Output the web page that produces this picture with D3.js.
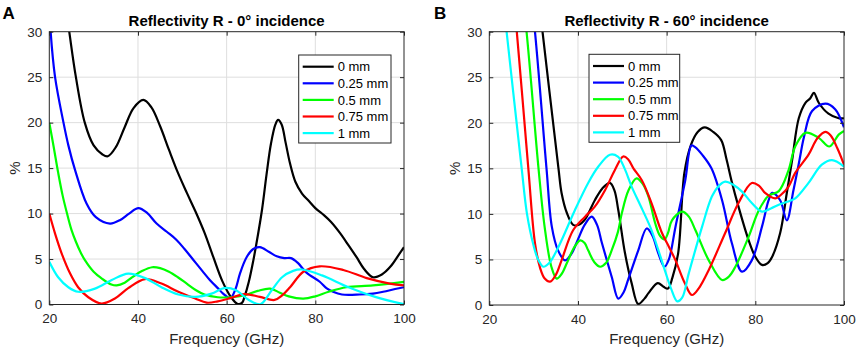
<!DOCTYPE html>
<html>
<head>
<meta charset="utf-8">
<script src="https://cdn.jsdelivr.net/npm/d3@7"></script>
<style>
body { margin: 0; background: #fff; }
svg { display: block; font-family: "Liberation Sans", Arial, sans-serif; }
</style>
</head>
<body>
<script>
// Legend entries and line colours (MATLAB k, b, g, r, c)
const thickness = ["0 mm", "0.25 mm", "0.5 mm", "0.75 mm", "1 mm"];
const colors = ["#000000", "#0000ff", "#00ff00", "#ff0000", "#00ffff"];

const xTicks = [20, 40, 60, 80, 100];
const yTicks = [0, 5, 10, 15, 20, 25, 30];

// Panel A - 0° incidence, [frequency GHz, reflectivity %]
const a0mm = [[20,48],[22,39],[24.5,30],[26,25],[28,20],[30,17.5],[32,16.5],[33.2,16.3],[35,17.3],[37,19.5],[39,21.6],[41.2,22.5],[43,21.7],[45,19.6],[47,17.0],[49,14.5],[51,12.3],[53,10.2],[55,7.9],[57,5.2],[59,2.6],[61,0.8],[62.5,0.05],[63.5,0.2],[64,0.8],[65,2.5],[66,4.8],[67,7.5],[68,10.5],[69,14.3],[70,17.7],[71,19.8],[71.6,20.3],[72.4,19.8],[73.3,17.8],[74.3,15.5],[75.5,13.5],[77,12.2],[78.5,11.4],[80,10.6],[82,9.8],[83.5,9.1],[85.5,7.9],[87.5,6.5],[89.3,5.2],[91,3.9],[93,3.0],[95,3.3],[97,4.2],[99,5.6],[100,6.3]];
const a025mm = [[20,33],[20.3,30],[21.3,25],[23.2,20],[24.3,17.5],[25.8,14.8],[28.4,11.1],[30.5,9.6],[33.7,8.9],[36,9.3],[38,10],[40.1,10.6],[42,10.1],[44.2,8.9],[46.5,8],[48.7,7.1],[50.5,6.1],[52.5,4.9],[54.5,3.7],[56.2,2.7],[58,1.8],[59.2,1.2],[60.8,0.7],[62,1.7],[63,3.4],[64.5,5.2],[66,6.1],[67.5,6.3],[69.5,5.8],[71.3,5.3],[73,5.1],[74.5,5.1],[76,4.6],[78,3.5],[81,2.5],[82.5,1.8],[84,1.4],[86,1.1],[90,1.1],[93,1.2],[95.3,1.4],[98,1.7],[100,1.9]];
const a05mm = [[20,20],[21,17.3],[22,14.5],[23,12],[24,10],[25,8.2],[26,6.9],[27,5.8],[28,4.9],[30,3.6],[32,2.8],[34,2.2],[35.2,2.1],[37,2.4],[39,3.1],[41,3.7],[43.2,4.1],[45,4.0],[47,3.6],[49,3.0],[51,2.3],[53,1.6],[55,1.1],[58,0.8],[61,0.8],[64,1.0],[67,1.5],[69.8,1.75],[72,1.3],[74,0.9],[77.3,0.65],[80,0.9],[83,1.4],[87,1.9],[93,2.1],[100,2.5]];
const a075mm = [[20,10],[21.3,7.8],[22.8,5.6],[24.7,3.4],[26.5,1.9],[28.8,0.8],[31.8,0.1],[34.8,0.66],[37.8,1.8],[41.6,2.8],[45.3,2.3],[49.1,1.4],[52.9,0.66],[55.5,0.2],[58,0.35],[60.8,0.7],[64,1.15],[67.5,0.84],[70.8,0.5],[72.5,1.0],[74.3,1.9],[77.3,3.6],[81,4.2],[86.3,3.8],[91.6,2.9],[96.8,2.3],[100,2.1]];
const a1mm = [[20,4.7],[22,3.0],[24.3,1.9],[26.5,1.4],[30.3,1.75],[34.1,2.7],[37.8,3.4],[41.6,2.9],[45.3,1.9],[49.1,1.1],[52.9,0.84],[56.6,1.2],[59.4,1.8],[62,1.6],[65,0.5],[67.6,0.03],[70.2,1.6],[72.5,3.0],[75,3.7],[77,3.85],[81.5,3.2],[87.5,1.9],[93.5,0.84],[100,0.03]];

// Panel B - 60° incidence
const b0mm = [[30,38.5],[32,30],[35.6,15],[36.3,12.3],[37.5,10.1],[38.9,8.8],[40.2,8.8],[41.6,9.4],[43.8,11.5],[45.5,12.8],[47.2,13.4],[48.2,12.6],[49.1,10.4],[50.6,5.7],[52.1,2.4],[53.6,0.1],[55,0.7],[55.9,1.3],[58,2.4],[59.3,2.0],[60.3,1.8],[61.3,3],[62.6,5.7],[64,14.5],[65.5,17.6],[67,19.0],[68.6,19.5],[70.5,19.0],[72.3,18.1],[73.5,16],[74.6,13.7],[76.2,10.8],[78.5,7.1],[80,5.3],[81.5,4.4],[82.8,4.6],[83.8,5.3],[85.6,7.9],[87.1,12.3],[88.3,15.9],[89.8,20.5],[91.3,22.2],[92.4,22.7],[93.2,23.3],[94.3,22.2],[96.5,21.0],[98.8,20.5],[100,20.5]];
const b025mm = [[28,40.5],[30.3,30],[32.9,15],[34.1,8.6],[35.5,6],[37.1,4.9],[38.5,5.6],[40,7.2],[41.5,8.8],[43.1,9.7],[44.3,8.8],[45.4,6.8],[47.6,3.1],[49.1,0.7],[50.3,1.4],[51.3,2.75],[53.6,6.0],[55.5,8.4],[56.8,7.6],[58.1,5.7],[59.5,4.2],[60.5,5],[62,8.6],[64.2,13.7],[65.6,17.5],[66.5,17.3],[68,16.5],[70.1,15],[72.5,11.5],[74.7,6.8],[77,3.66],[79.2,4.9],[81.5,8.6],[83,11.5],[83.8,12.3],[85.6,11.5],[87.1,9.3],[88.6,12.6],[89.8,15.5],[91,18.5],[92.8,21.3],[95.8,22.1],[98,21.5],[100,19.5]];
const b05mm = [[26,40.5],[28.4,30],[31.1,15],[32.5,8.5],[34,4.2],[35.2,2.9],[36.3,3.4],[37.5,4.6],[39,6.2],[40.5,7.1],[41.5,6.8],[42.3,6.0],[43.7,4.7],[45,4.2],[46.3,4.6],[47.6,6.0],[49,8],[49.9,10.1],[51.4,12.6],[53.2,13.9],[54.6,13.3],[55.9,11.9],[57.4,9.0],[58.5,7.6],[59.5,7.2],[60.3,7.9],[61.2,9.3],[63.5,10.25],[65,9.7],[66.5,8.2],[69.5,4.9],[72.5,2.75],[74,3.1],[75.5,4.2],[78.5,7.5],[80.8,10.4],[83,12.0],[85.3,12.5],[87.5,14.8],[89,17.4],[91.3,18.9],[94.3,18.35],[96.7,17.4],[98.8,18.7],[100,19.1]];
const b075mm = [[24,41.5],[26.2,30],[28.8,15],[30.3,6.8],[31.5,4.0],[32.5,2.9],[33.7,2.56],[35,3.3],[36.3,4.9],[38.9,8.2],[41.6,9.7],[43.8,10.8],[46.1,12.6],[48.3,14.8],[50.2,16.3],[51.3,16],[52.5,15],[54.4,13.7],[56.5,11.3],[58.95,7.9],[60.5,6.4],[62,4.9],[64,2.5],[65.7,1.1],[67.2,1.8],[69.5,3.85],[73.2,7.9],[76.2,11.2],[79.2,13.4],[80.8,13.1],[82.2,12.3],[84.5,11.7],[85.8,12.1],[87.5,13.0],[89,14.5],[92,16.5],[94,18.3],[95.8,19.0],[97,18.6],[98.5,17.2],[100,15.4]];
const b1mm = [[22,38.5],[23.9,30],[27.3,15],[28.5,10],[30,6.5],[31,5],[32.2,4.2],[33.5,4.6],[35,5.8],[36.3,7.1],[39.3,10.4],[42.3,13.4],[44.6,15.2],[47.2,16.5],[49,16.3],[50.5,15],[52.1,13.0],[54.5,10.5],[56.6,8.2],[59.6,3.8],[61,1.8],[62.4,0.4],[63.5,0.8],[65,3.5],[68,8.6],[70.2,11.9],[71.8,13.1],[73.2,13.55],[75,13.2],[77,12.45],[79.2,11.2],[81.5,10.25],[83.5,10.6],[85.3,11.0],[87,11.3],[89,11.7],[92,13.4],[95,15.4],[97.3,15.9],[100,15.2]];

const svg = d3.select("body").append("svg")
    .attr("width", 858)
    .attr("height", 361);

const axisColor = "#262626";

function drawPanel(p) {
    let x = d3.scaleLinear().domain([20, 100]).range([p.left, p.right]);
    let y = d3.scaleLinear().domain([0, 30]).range([p.bottom, p.top]);
    let g = svg.append("g");

    // grid
    g.selectAll(".gx").data(xTicks.slice(1, -1)).enter().append("line")
        .attr("x1", d => x(d)).attr("x2", d => x(d))
        .attr("y1", p.top).attr("y2", p.bottom)
        .attr("stroke", "#dedede").attr("stroke-width", 1);
    g.selectAll(".gy").data(yTicks.slice(1, -1)).enter().append("line")
        .attr("x1", p.left).attr("x2", p.right)
        .attr("y1", d => y(d)).attr("y2", d => y(d))
        .attr("stroke", "#dedede").attr("stroke-width", 1);

    // curves
    svg.append("clipPath").attr("id", "clip" + p.id)
        .append("rect")
        .attr("x", p.left).attr("y", p.top)
        .attr("width", p.right - p.left).attr("height", p.bottom - p.top);

    let line = d3.line()
        .x(d => x(d[0]))
        .y(d => y(d[1]))
        .curve(d3.curveCatmullRom.alpha(0.5));

    g.append("g").attr("clip-path", "url(#clip" + p.id + ")")
        .selectAll("path").data(p.series).enter().append("path")
        .attr("d", d => line(d))
        .attr("fill", "none")
        .attr("stroke", (d, i) => colors[i])
        .attr("stroke-width", 2.2);

    // axes
    let font = "13.5px";
    let bottom = g.append("g").attr("transform", "translate(0," + p.bottom + ")")
        .call(d3.axisBottom(x).tickValues(xTicks).tickSizeInner(-4).tickSizeOuter(0).tickPadding(9));
    let left = g.append("g").attr("transform", "translate(" + p.left + ",0)")
        .call(d3.axisLeft(y).tickValues(yTicks).tickSizeInner(-4).tickSizeOuter(0).tickPadding(7));
    let top = g.append("g").attr("transform", "translate(0," + p.top + ")")
        .call(d3.axisTop(x).tickValues(xTicks).tickSizeInner(-4).tickSizeOuter(0).tickFormat(""));
    let right = g.append("g").attr("transform", "translate(" + p.right + ",0)")
        .call(d3.axisRight(y).tickValues(yTicks).tickSizeInner(-4).tickSizeOuter(0).tickFormat(""));
    [bottom, left, top, right].forEach(a => {
        a.select(".domain").remove();
        a.selectAll("line").attr("stroke", axisColor);
        a.selectAll("text").attr("fill", axisColor).style("font-size", font)
            .style("font-family", "'Liberation Sans', Arial, sans-serif");
    });

    g.append("rect")
        .attr("x", p.left).attr("y", p.top)
        .attr("width", p.right - p.left).attr("height", p.bottom - p.top)
        .attr("fill", "none").attr("stroke", axisColor).attr("stroke-width", 1);

    // legend
    let lg = g.append("g");
    lg.append("rect")
        .attr("x", p.legX).attr("y", p.legY)
        .attr("width", p.legW).attr("height", 88)
        .attr("fill", "#fff").attr("stroke", axisColor).attr("stroke-width", 1);
    thickness.forEach((t, i) => {
        let cy = p.legY + 11.7 + i * 16.6;
        lg.append("line")
            .attr("x1", p.legX + 4).attr("x2", p.legX + 35)
            .attr("y1", cy).attr("y2", cy)
            .attr("stroke", colors[i]).attr("stroke-width", 2.2);
        lg.append("text")
            .attr("x", p.legX + 39).attr("y", cy + 4.6)
            .attr("fill", "#000").style("font-size", "13px")
            .text(t);
    });

    // titles and labels
    g.append("text")
        .attr("x", (p.left + p.right) / 2).attr("y", 25.5)
        .attr("text-anchor", "middle")
        .style("font-size", "15px").style("font-weight", "bold")
        .attr("fill", "#000")
        .text(p.title);
    g.append("text")
        .attr("x", (p.left + p.right) / 2).attr("y", 344)
        .attr("text-anchor", "middle")
        .style("font-size", "15px").attr("fill", axisColor)
        .text("Frequency (GHz)");
    g.append("text")
        .attr("transform", "translate(" + (p.left - 29) + "," + ((p.top + p.bottom) / 2) + ") rotate(-90)")
        .attr("text-anchor", "middle")
        .style("font-size", "15px").attr("fill", axisColor)
        .text("%");
    g.append("text")
        .attr("x", p.letterX).attr("y", 18.5)
        .style("font-size", "17px").style("font-weight", "bold")
        .attr("fill", "#000")
        .text(p.letter);
}

drawPanel({
    id: "A", left: 49.3, right: 404, top: 31.7, bottom: 304.5,
    series: [a0mm, a025mm, a05mm, a075mm, a1mm],
    title: "Reflectivity R - 0° incidence", letter: "A", letterX: 2.5,
    legX: 298.7, legY: 55, legW: 92.3
});

drawPanel({
    id: "B", left: 489.3, right: 844, top: 31.7, bottom: 305,
    series: [b0mm, b025mm, b05mm, b075mm, b1mm],
    title: "Reflectivity R - 60° incidence", letter: "B", letterX: 434,
    legX: 589, legY: 54.3, legW: 90.7
});
</script>
</body>
</html>
